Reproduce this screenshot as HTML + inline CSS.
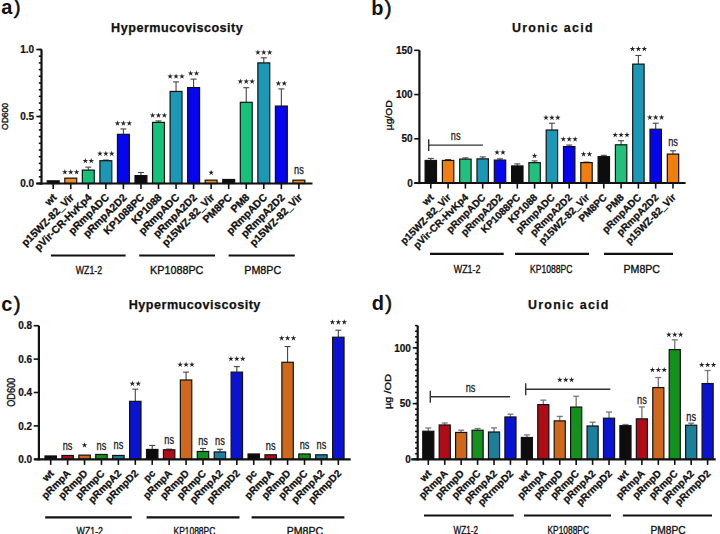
<!DOCTYPE html><html><head><meta charset="utf-8"><style>html,body{margin:0;padding:0;background:#fff;width:720px;height:534px;overflow:hidden}svg{display:block}</style></head><body><svg width="720" height="534" viewBox="0 0 720 534" font-family='"Liberation Sans", sans-serif'><rect width="720" height="534" fill="#fff"/><rect x="47.25" y="180.82" width="11.90" height="2.68" fill="#0d0d0d" stroke="#111" stroke-width="1.2"/><line x1="53.20" y1="183.50" x2="53.20" y2="189.10" stroke="#111" stroke-width="1.6"/><text x="57.20" y="198.00" font-size="10.5" font-weight="bold" text-anchor="end" fill="#111" stroke="#111" stroke-width="0.3" transform="rotate(-45 57.20 198.00)">wt</text><rect x="64.80" y="178.14" width="11.90" height="5.36" fill="#f08c1c" stroke="#111" stroke-width="1.2"/><path d="M64.85,169.10L65.50,171.21L67.70,171.17L65.90,172.44L66.61,174.53L64.85,173.20L63.09,174.53L63.80,172.44L62.00,171.17L64.20,171.21ZM70.75,169.10L71.40,171.21L73.60,171.17L71.80,172.44L72.51,174.53L70.75,173.20L68.99,174.53L69.70,172.44L67.90,171.17L70.10,171.21ZM76.65,169.10L77.30,171.21L79.50,171.17L77.70,172.44L78.41,174.53L76.65,173.20L74.89,174.53L75.60,172.44L73.80,171.17L76.00,171.21Z" fill="#222"/><line x1="70.75" y1="183.50" x2="70.75" y2="189.10" stroke="#111" stroke-width="1.6"/><text x="74.75" y="198.00" font-size="10.5" font-weight="bold" text-anchor="end" fill="#111" stroke="#111" stroke-width="0.3" transform="rotate(-45 74.75 198.00)">p15WZ-82_Vir</text><line x1="88.30" y1="170.10" x2="88.30" y2="167.15" stroke="#444" stroke-width="1.1"/><line x1="85.30" y1="167.15" x2="91.30" y2="167.15" stroke="#444" stroke-width="1.1"/><rect x="82.35" y="170.10" width="11.90" height="13.40" fill="#14c27a" stroke="#111" stroke-width="1.2"/><path d="M85.35,157.90L86.00,160.01L88.20,159.97L86.40,161.24L87.11,163.33L85.35,162.00L83.59,163.33L84.30,161.24L82.50,159.97L84.70,160.01ZM91.25,157.90L91.90,160.01L94.10,159.97L92.30,161.24L93.01,163.33L91.25,162.00L89.49,163.33L90.20,161.24L88.40,159.97L90.60,160.01Z" fill="#222"/><line x1="88.30" y1="183.50" x2="88.30" y2="189.10" stroke="#111" stroke-width="1.6"/><text x="92.30" y="198.00" font-size="10.5" font-weight="bold" text-anchor="end" fill="#111" stroke="#111" stroke-width="0.3" transform="rotate(-45 92.30 198.00)">pVir-CR-HvKp4</text><line x1="105.85" y1="160.72" x2="105.85" y2="160.05" stroke="#444" stroke-width="1.1"/><line x1="102.85" y1="160.05" x2="108.85" y2="160.05" stroke="#444" stroke-width="1.1"/><rect x="99.90" y="160.72" width="11.90" height="22.78" fill="#1b98b6" stroke="#111" stroke-width="1.2"/><path d="M99.95,150.70L100.60,152.81L102.80,152.77L101.00,154.04L101.71,156.13L99.95,154.80L98.19,156.13L98.90,154.04L97.10,152.77L99.30,152.81ZM105.85,150.70L106.50,152.81L108.70,152.77L106.90,154.04L107.61,156.13L105.85,154.80L104.09,156.13L104.80,154.04L103.00,152.77L105.20,152.81ZM111.75,150.70L112.40,152.81L114.60,152.77L112.80,154.04L113.51,156.13L111.75,154.80L109.99,156.13L110.70,154.04L108.90,152.77L111.10,152.81Z" fill="#222"/><line x1="105.85" y1="183.50" x2="105.85" y2="189.10" stroke="#111" stroke-width="1.6"/><text x="109.85" y="198.00" font-size="10.5" font-weight="bold" text-anchor="end" fill="#111" stroke="#111" stroke-width="0.3" transform="rotate(-45 109.85 198.00)">pRmpADC</text><line x1="123.40" y1="134.32" x2="123.40" y2="128.96" stroke="#444" stroke-width="1.1"/><line x1="120.40" y1="128.96" x2="126.40" y2="128.96" stroke="#444" stroke-width="1.1"/><rect x="117.45" y="134.32" width="11.90" height="49.18" fill="#0505f0" stroke="#111" stroke-width="1.2"/><path d="M117.50,120.30L118.15,122.41L120.35,122.37L118.55,123.64L119.26,125.73L117.50,124.40L115.74,125.73L116.45,123.64L114.65,122.37L116.85,122.41ZM123.40,120.30L124.05,122.41L126.25,122.37L124.45,123.64L125.16,125.73L123.40,124.40L121.64,125.73L122.35,123.64L120.55,122.37L122.75,122.41ZM129.30,120.30L129.95,122.41L132.15,122.37L130.35,123.64L131.06,125.73L129.30,124.40L127.54,125.73L128.25,123.64L126.45,122.37L128.65,122.41Z" fill="#222"/><line x1="123.40" y1="183.50" x2="123.40" y2="189.10" stroke="#111" stroke-width="1.6"/><text x="127.40" y="198.00" font-size="10.5" font-weight="bold" text-anchor="end" fill="#111" stroke="#111" stroke-width="0.3" transform="rotate(-45 127.40 198.00)">pRmpA2D2</text><line x1="140.95" y1="175.59" x2="140.95" y2="172.51" stroke="#444" stroke-width="1.1"/><line x1="137.95" y1="172.51" x2="143.95" y2="172.51" stroke="#444" stroke-width="1.1"/><rect x="135.00" y="175.59" width="11.90" height="7.91" fill="#0d0d0d" stroke="#111" stroke-width="1.2"/><line x1="140.95" y1="183.50" x2="140.95" y2="189.10" stroke="#111" stroke-width="1.6"/><text x="144.95" y="198.00" font-size="10.5" font-weight="bold" text-anchor="end" fill="#111" stroke="#111" stroke-width="0.3" transform="rotate(-45 144.95 198.00)">KP1088PC</text><line x1="158.50" y1="122.40" x2="158.50" y2="120.92" stroke="#444" stroke-width="1.1"/><line x1="155.50" y1="120.92" x2="161.50" y2="120.92" stroke="#444" stroke-width="1.1"/><rect x="152.55" y="122.40" width="11.90" height="61.10" fill="#14c27a" stroke="#111" stroke-width="1.2"/><path d="M152.60,112.40L153.25,114.51L155.45,114.47L153.65,115.74L154.36,117.83L152.60,116.50L150.84,117.83L151.55,115.74L149.75,114.47L151.95,114.51ZM158.50,112.40L159.15,114.51L161.35,114.47L159.55,115.74L160.26,117.83L158.50,116.50L156.74,117.83L157.45,115.74L155.65,114.47L157.85,114.51ZM164.40,112.40L165.05,114.51L167.25,114.47L165.45,115.74L166.16,117.83L164.40,116.50L162.64,117.83L163.35,115.74L161.55,114.47L163.75,114.51Z" fill="#222"/><line x1="158.50" y1="183.50" x2="158.50" y2="189.10" stroke="#111" stroke-width="1.6"/><text x="162.50" y="198.00" font-size="10.5" font-weight="bold" text-anchor="end" fill="#111" stroke="#111" stroke-width="0.3" transform="rotate(-45 162.50 198.00)">KP1088</text><line x1="176.05" y1="91.44" x2="176.05" y2="81.93" stroke="#444" stroke-width="1.1"/><line x1="173.05" y1="81.93" x2="179.05" y2="81.93" stroke="#444" stroke-width="1.1"/><rect x="170.10" y="91.44" width="11.90" height="92.06" fill="#1b98b6" stroke="#111" stroke-width="1.2"/><path d="M170.15,73.40L170.80,75.51L173.00,75.47L171.20,76.74L171.91,78.83L170.15,77.50L168.39,78.83L169.10,76.74L167.30,75.47L169.50,75.51ZM176.05,73.40L176.70,75.51L178.90,75.47L177.10,76.74L177.81,78.83L176.05,77.50L174.29,78.83L175.00,76.74L173.20,75.47L175.40,75.51ZM181.95,73.40L182.60,75.51L184.80,75.47L183.00,76.74L183.71,78.83L181.95,77.50L180.19,78.83L180.90,76.74L179.10,75.47L181.30,75.51Z" fill="#222"/><line x1="176.05" y1="183.50" x2="176.05" y2="189.10" stroke="#111" stroke-width="1.6"/><text x="180.05" y="198.00" font-size="10.5" font-weight="bold" text-anchor="end" fill="#111" stroke="#111" stroke-width="0.3" transform="rotate(-45 180.05 198.00)">pRmpADC</text><line x1="193.60" y1="87.56" x2="193.60" y2="79.11" stroke="#444" stroke-width="1.1"/><line x1="190.60" y1="79.11" x2="196.60" y2="79.11" stroke="#444" stroke-width="1.1"/><rect x="187.65" y="87.56" width="11.90" height="95.94" fill="#0505f0" stroke="#111" stroke-width="1.2"/><path d="M190.65,70.40L191.30,72.51L193.50,72.47L191.70,73.74L192.41,75.83L190.65,74.50L188.89,75.83L189.60,73.74L187.80,72.47L190.00,72.51ZM196.55,70.40L197.20,72.51L199.40,72.47L197.60,73.74L198.31,75.83L196.55,74.50L194.79,75.83L195.50,73.74L193.70,72.47L195.90,72.51Z" fill="#222"/><line x1="193.60" y1="183.50" x2="193.60" y2="189.10" stroke="#111" stroke-width="1.6"/><text x="197.60" y="198.00" font-size="10.5" font-weight="bold" text-anchor="end" fill="#111" stroke="#111" stroke-width="0.3" transform="rotate(-45 197.60 198.00)">pRmpA2D2</text><rect x="205.20" y="180.15" width="11.90" height="3.35" fill="#f08c1c" stroke="#111" stroke-width="1.2"/><path d="M211.15,169.75L211.80,171.86L214.00,171.82L212.20,173.09L212.91,175.18L211.15,173.85L209.39,175.18L210.10,173.09L208.30,171.82L210.50,171.86Z" fill="#222"/><line x1="211.15" y1="183.50" x2="211.15" y2="189.10" stroke="#111" stroke-width="1.6"/><text x="215.15" y="198.00" font-size="10.5" font-weight="bold" text-anchor="end" fill="#111" stroke="#111" stroke-width="0.3" transform="rotate(-45 215.15 198.00)">p15WZ-82_Vir</text><rect x="222.75" y="179.48" width="11.90" height="4.02" fill="#0d0d0d" stroke="#111" stroke-width="1.2"/><line x1="228.70" y1="183.50" x2="228.70" y2="189.10" stroke="#111" stroke-width="1.6"/><text x="232.70" y="198.00" font-size="10.5" font-weight="bold" text-anchor="end" fill="#111" stroke="#111" stroke-width="0.3" transform="rotate(-45 232.70 198.00)">PM8PC</text><line x1="246.25" y1="102.30" x2="246.25" y2="87.69" stroke="#444" stroke-width="1.1"/><line x1="243.25" y1="87.69" x2="249.25" y2="87.69" stroke="#444" stroke-width="1.1"/><rect x="240.30" y="102.30" width="11.90" height="81.20" fill="#14c27a" stroke="#111" stroke-width="1.2"/><path d="M240.35,78.50L241.00,80.61L243.20,80.57L241.40,81.84L242.11,83.93L240.35,82.60L238.59,83.93L239.30,81.84L237.50,80.57L239.70,80.61ZM246.25,78.50L246.90,80.61L249.10,80.57L247.30,81.84L248.01,83.93L246.25,82.60L244.49,83.93L245.20,81.84L243.40,80.57L245.60,80.61ZM252.15,78.50L252.80,80.61L255.00,80.57L253.20,81.84L253.91,83.93L252.15,82.60L250.39,83.93L251.10,81.84L249.30,80.57L251.50,80.61Z" fill="#222"/><line x1="246.25" y1="183.50" x2="246.25" y2="189.10" stroke="#111" stroke-width="1.6"/><text x="250.25" y="198.00" font-size="10.5" font-weight="bold" text-anchor="end" fill="#111" stroke="#111" stroke-width="0.3" transform="rotate(-45 250.25 198.00)">PM8</text><line x1="263.80" y1="62.90" x2="263.80" y2="57.81" stroke="#444" stroke-width="1.1"/><line x1="260.80" y1="57.81" x2="266.80" y2="57.81" stroke="#444" stroke-width="1.1"/><rect x="257.85" y="62.90" width="11.90" height="120.60" fill="#1b98b6" stroke="#111" stroke-width="1.2"/><path d="M257.90,49.50L258.55,51.61L260.75,51.57L258.95,52.84L259.66,54.93L257.90,53.60L256.14,54.93L256.85,52.84L255.05,51.57L257.25,51.61ZM263.80,49.50L264.45,51.61L266.65,51.57L264.85,52.84L265.56,54.93L263.80,53.60L262.04,54.93L262.75,52.84L260.95,51.57L263.15,51.61ZM269.70,49.50L270.35,51.61L272.55,51.57L270.75,52.84L271.46,54.93L269.70,53.60L267.94,54.93L268.65,52.84L266.85,51.57L269.05,51.61Z" fill="#222"/><line x1="263.80" y1="183.50" x2="263.80" y2="189.10" stroke="#111" stroke-width="1.6"/><text x="267.80" y="198.00" font-size="10.5" font-weight="bold" text-anchor="end" fill="#111" stroke="#111" stroke-width="0.3" transform="rotate(-45 267.80 198.00)">pRmpADC</text><line x1="281.35" y1="106.05" x2="281.35" y2="88.90" stroke="#444" stroke-width="1.1"/><line x1="278.35" y1="88.90" x2="284.35" y2="88.90" stroke="#444" stroke-width="1.1"/><rect x="275.40" y="106.05" width="11.90" height="77.45" fill="#0505f0" stroke="#111" stroke-width="1.2"/><path d="M278.40,80.50L279.05,82.61L281.25,82.57L279.45,83.84L280.16,85.93L278.40,84.60L276.64,85.93L277.35,83.84L275.55,82.57L277.75,82.61ZM284.30,80.50L284.95,82.61L287.15,82.57L285.35,83.84L286.06,85.93L284.30,84.60L282.54,85.93L283.25,83.84L281.45,82.57L283.65,82.61Z" fill="#222"/><line x1="281.35" y1="183.50" x2="281.35" y2="189.10" stroke="#111" stroke-width="1.6"/><text x="285.35" y="198.00" font-size="10.5" font-weight="bold" text-anchor="end" fill="#111" stroke="#111" stroke-width="0.3" transform="rotate(-45 285.35 198.00)">pRmpA2D2</text><rect x="292.95" y="180.15" width="11.90" height="3.35" fill="#f08c1c" stroke="#111" stroke-width="1.2"/><text x="298.90" y="174.00" font-size="12.5" font-weight="normal" text-anchor="middle" fill="#222" textLength="9.7" lengthAdjust="spacingAndGlyphs" stroke="#222" stroke-width="0.3">ns</text><line x1="298.90" y1="183.50" x2="298.90" y2="189.10" stroke="#111" stroke-width="1.6"/><text x="302.90" y="198.00" font-size="10.5" font-weight="bold" text-anchor="end" fill="#111" stroke="#111" stroke-width="0.3" transform="rotate(-45 302.90 198.00)">p15WZ-82_Vir</text><line x1="41.50" y1="49.50" x2="41.50" y2="184.60" stroke="#111" stroke-width="2.2"/><line x1="36.30" y1="183.50" x2="312.50" y2="183.50" stroke="#111" stroke-width="2.2"/><line x1="36.30" y1="183.50" x2="41.50" y2="183.50" stroke="#111" stroke-width="1.6"/><text x="34.10" y="187.10" font-size="10" font-weight="bold" text-anchor="end" fill="#111" stroke="#111" stroke-width="0.2">0.0</text><line x1="36.30" y1="116.50" x2="41.50" y2="116.50" stroke="#111" stroke-width="1.6"/><text x="34.10" y="120.10" font-size="10" font-weight="bold" text-anchor="end" fill="#111" stroke="#111" stroke-width="0.2">0.5</text><line x1="36.30" y1="49.50" x2="41.50" y2="49.50" stroke="#111" stroke-width="1.6"/><text x="34.10" y="53.10" font-size="10" font-weight="bold" text-anchor="end" fill="#111" stroke="#111" stroke-width="0.2">1.0</text><line x1="38.80" y1="183.50" x2="41.50" y2="183.50" stroke="#111" stroke-width="1.6"/><line x1="38.80" y1="176.80" x2="41.50" y2="176.80" stroke="#111" stroke-width="1.6"/><line x1="38.80" y1="170.10" x2="41.50" y2="170.10" stroke="#111" stroke-width="1.6"/><line x1="38.80" y1="163.40" x2="41.50" y2="163.40" stroke="#111" stroke-width="1.6"/><line x1="38.80" y1="156.70" x2="41.50" y2="156.70" stroke="#111" stroke-width="1.6"/><line x1="38.80" y1="150.00" x2="41.50" y2="150.00" stroke="#111" stroke-width="1.6"/><line x1="38.80" y1="143.30" x2="41.50" y2="143.30" stroke="#111" stroke-width="1.6"/><line x1="38.80" y1="136.60" x2="41.50" y2="136.60" stroke="#111" stroke-width="1.6"/><line x1="38.80" y1="129.90" x2="41.50" y2="129.90" stroke="#111" stroke-width="1.6"/><line x1="38.80" y1="123.20" x2="41.50" y2="123.20" stroke="#111" stroke-width="1.6"/><line x1="38.80" y1="116.50" x2="41.50" y2="116.50" stroke="#111" stroke-width="1.6"/><line x1="38.80" y1="109.80" x2="41.50" y2="109.80" stroke="#111" stroke-width="1.6"/><line x1="38.80" y1="103.10" x2="41.50" y2="103.10" stroke="#111" stroke-width="1.6"/><line x1="38.80" y1="96.40" x2="41.50" y2="96.40" stroke="#111" stroke-width="1.6"/><line x1="38.80" y1="89.70" x2="41.50" y2="89.70" stroke="#111" stroke-width="1.6"/><line x1="38.80" y1="83.00" x2="41.50" y2="83.00" stroke="#111" stroke-width="1.6"/><line x1="38.80" y1="76.30" x2="41.50" y2="76.30" stroke="#111" stroke-width="1.6"/><line x1="38.80" y1="69.60" x2="41.50" y2="69.60" stroke="#111" stroke-width="1.6"/><line x1="38.80" y1="62.90" x2="41.50" y2="62.90" stroke="#111" stroke-width="1.6"/><line x1="38.80" y1="56.20" x2="41.50" y2="56.20" stroke="#111" stroke-width="1.6"/><line x1="38.80" y1="49.50" x2="41.50" y2="49.50" stroke="#111" stroke-width="1.6"/><text x="8.00" y="116.50" font-size="9.5" text-anchor="middle" fill="#111" stroke="#111" stroke-width="0.35" transform="rotate(-90 8.00 116.50)" textLength="27" lengthAdjust="spacingAndGlyphs">OD600</text><text x="177.20" y="32.10" font-size="12.6" font-weight="bold" text-anchor="middle" fill="#111" letter-spacing="0.5" stroke="#111" stroke-width="0.25">Hypermucoviscosity</text><text x="1.2" y="14.4" font-size="20" fill="#111"><tspan font-weight="bold">a</tspan><tspan dx="1.3" font-size="20.5" stroke="#111" stroke-width="0.5">)</tspan></text><line x1="50.90" y1="255.50" x2="125.60" y2="255.50" stroke="#111" stroke-width="2.2"/><text x="89.00" y="274.00" font-size="11" text-anchor="middle" fill="#111" stroke="#111" stroke-width="0.35" textLength="26.4" lengthAdjust="spacingAndGlyphs">WZ1-2</text><line x1="139.20" y1="255.50" x2="215.00" y2="255.50" stroke="#111" stroke-width="2.2"/><text x="176.70" y="274.00" font-size="11" text-anchor="middle" fill="#111" stroke="#111" stroke-width="0.35" textLength="53.4" lengthAdjust="spacingAndGlyphs">KP1088PC</text><line x1="228.60" y1="255.50" x2="294.80" y2="255.50" stroke="#111" stroke-width="2.2"/><text x="262.70" y="274.00" font-size="11" text-anchor="middle" fill="#111" stroke="#111" stroke-width="0.35" textLength="36.9" lengthAdjust="spacingAndGlyphs">PM8PC</text><line x1="430.80" y1="160.45" x2="430.80" y2="158.41" stroke="#444" stroke-width="1.1"/><line x1="427.80" y1="158.41" x2="433.80" y2="158.41" stroke="#444" stroke-width="1.1"/><rect x="425.10" y="160.45" width="11.40" height="22.55" fill="#0d0d0d" stroke="#111" stroke-width="1.2"/><line x1="430.80" y1="183.00" x2="430.80" y2="188.60" stroke="#111" stroke-width="1.6"/><text x="434.30" y="198.00" font-size="10.1" font-weight="bold" text-anchor="end" fill="#111" stroke="#111" stroke-width="0.3" transform="rotate(-45 434.30 198.00)">wt</text><line x1="448.10" y1="160.45" x2="448.10" y2="159.56" stroke="#444" stroke-width="1.1"/><line x1="445.10" y1="159.56" x2="451.10" y2="159.56" stroke="#444" stroke-width="1.1"/><rect x="442.40" y="160.45" width="11.40" height="22.55" fill="#f07f10" stroke="#111" stroke-width="1.2"/><line x1="448.10" y1="183.00" x2="448.10" y2="188.60" stroke="#111" stroke-width="1.6"/><text x="451.60" y="198.00" font-size="10.1" font-weight="bold" text-anchor="end" fill="#111" stroke="#111" stroke-width="0.3" transform="rotate(-45 451.60 198.00)">p15WZ-82_Vir</text><line x1="465.40" y1="159.12" x2="465.40" y2="157.88" stroke="#444" stroke-width="1.1"/><line x1="462.40" y1="157.88" x2="468.40" y2="157.88" stroke="#444" stroke-width="1.1"/><rect x="459.70" y="159.12" width="11.40" height="23.88" fill="#22c07c" stroke="#111" stroke-width="1.2"/><line x1="465.40" y1="183.00" x2="465.40" y2="188.60" stroke="#111" stroke-width="1.6"/><text x="468.90" y="198.00" font-size="10.1" font-weight="bold" text-anchor="end" fill="#111" stroke="#111" stroke-width="0.3" transform="rotate(-45 468.90 198.00)">pVir-CR-HvKp4</text><line x1="482.70" y1="158.85" x2="482.70" y2="156.91" stroke="#444" stroke-width="1.1"/><line x1="479.70" y1="156.91" x2="485.70" y2="156.91" stroke="#444" stroke-width="1.1"/><rect x="477.00" y="158.85" width="11.40" height="24.15" fill="#1b98b6" stroke="#111" stroke-width="1.2"/><line x1="482.70" y1="183.00" x2="482.70" y2="188.60" stroke="#111" stroke-width="1.6"/><text x="486.20" y="198.00" font-size="10.1" font-weight="bold" text-anchor="end" fill="#111" stroke="#111" stroke-width="0.3" transform="rotate(-45 486.20 198.00)">pRmpADC</text><line x1="500.00" y1="160.09" x2="500.00" y2="158.85" stroke="#444" stroke-width="1.1"/><line x1="497.00" y1="158.85" x2="503.00" y2="158.85" stroke="#444" stroke-width="1.1"/><rect x="494.30" y="160.09" width="11.40" height="22.91" fill="#0505ee" stroke="#111" stroke-width="1.2"/><path d="M497.05,149.50L497.70,151.61L499.90,151.57L498.10,152.84L498.81,154.93L497.05,153.60L495.29,154.93L496.00,152.84L494.20,151.57L496.40,151.61ZM502.95,149.50L503.60,151.61L505.80,151.57L504.00,152.84L504.71,154.93L502.95,153.60L501.19,154.93L501.90,152.84L500.10,151.57L502.30,151.61Z" fill="#222"/><line x1="500.00" y1="183.00" x2="500.00" y2="188.60" stroke="#111" stroke-width="1.6"/><text x="503.50" y="198.00" font-size="10.1" font-weight="bold" text-anchor="end" fill="#111" stroke="#111" stroke-width="0.3" transform="rotate(-45 503.50 198.00)">pRmpA2D2</text><line x1="517.30" y1="165.93" x2="517.30" y2="163.89" stroke="#444" stroke-width="1.1"/><line x1="514.30" y1="163.89" x2="520.30" y2="163.89" stroke="#444" stroke-width="1.1"/><rect x="511.60" y="165.93" width="11.40" height="17.07" fill="#0d0d0d" stroke="#111" stroke-width="1.2"/><line x1="517.30" y1="183.00" x2="517.30" y2="188.60" stroke="#111" stroke-width="1.6"/><text x="520.80" y="198.00" font-size="10.1" font-weight="bold" text-anchor="end" fill="#111" stroke="#111" stroke-width="0.3" transform="rotate(-45 520.80 198.00)">KP1088PC</text><line x1="534.60" y1="162.66" x2="534.60" y2="160.89" stroke="#444" stroke-width="1.1"/><line x1="531.60" y1="160.89" x2="537.60" y2="160.89" stroke="#444" stroke-width="1.1"/><rect x="528.90" y="162.66" width="11.40" height="20.34" fill="#22c07c" stroke="#111" stroke-width="1.2"/><path d="M534.60,152.80L535.25,154.91L537.45,154.87L535.65,156.14L536.36,158.23L534.60,156.90L532.84,158.23L533.55,156.14L531.75,154.87L533.95,154.91Z" fill="#222"/><line x1="534.60" y1="183.00" x2="534.60" y2="188.60" stroke="#111" stroke-width="1.6"/><text x="538.10" y="198.00" font-size="10.1" font-weight="bold" text-anchor="end" fill="#111" stroke="#111" stroke-width="0.3" transform="rotate(-45 538.10 198.00)">KP1088</text><line x1="551.90" y1="130.02" x2="551.90" y2="123.21" stroke="#444" stroke-width="1.1"/><line x1="548.90" y1="123.21" x2="554.90" y2="123.21" stroke="#444" stroke-width="1.1"/><rect x="546.20" y="130.02" width="11.40" height="52.98" fill="#1b98b6" stroke="#111" stroke-width="1.2"/><path d="M546.00,114.75L546.65,116.86L548.85,116.82L547.05,118.09L547.76,120.18L546.00,118.85L544.24,120.18L544.95,118.09L543.15,116.82L545.35,116.86ZM551.90,114.75L552.55,116.86L554.75,116.82L552.95,118.09L553.66,120.18L551.90,118.85L550.14,120.18L550.85,118.09L549.05,116.82L551.25,116.86ZM557.80,114.75L558.45,116.86L560.65,116.82L558.85,118.09L559.56,120.18L557.80,118.85L556.04,120.18L556.75,118.09L554.95,116.82L557.15,116.86Z" fill="#222"/><line x1="551.90" y1="183.00" x2="551.90" y2="188.60" stroke="#111" stroke-width="1.6"/><text x="555.40" y="198.00" font-size="10.1" font-weight="bold" text-anchor="end" fill="#111" stroke="#111" stroke-width="0.3" transform="rotate(-45 555.40 198.00)">pRmpADC</text><line x1="569.20" y1="146.56" x2="569.20" y2="145.05" stroke="#444" stroke-width="1.1"/><line x1="566.20" y1="145.05" x2="572.20" y2="145.05" stroke="#444" stroke-width="1.1"/><rect x="563.50" y="146.56" width="11.40" height="36.44" fill="#0505ee" stroke="#111" stroke-width="1.2"/><path d="M563.30,136.20L563.95,138.31L566.15,138.27L564.35,139.54L565.06,141.63L563.30,140.30L561.54,141.63L562.25,139.54L560.45,138.27L562.65,138.31ZM569.20,136.20L569.85,138.31L572.05,138.27L570.25,139.54L570.96,141.63L569.20,140.30L567.44,141.63L568.15,139.54L566.35,138.27L568.55,138.31ZM575.10,136.20L575.75,138.31L577.95,138.27L576.15,139.54L576.86,141.63L575.10,140.30L573.34,141.63L574.05,139.54L572.25,138.27L574.45,138.31Z" fill="#222"/><line x1="569.20" y1="183.00" x2="569.20" y2="188.60" stroke="#111" stroke-width="1.6"/><text x="572.70" y="198.00" font-size="10.1" font-weight="bold" text-anchor="end" fill="#111" stroke="#111" stroke-width="0.3" transform="rotate(-45 572.70 198.00)">pRmpA2D2</text><line x1="586.50" y1="162.57" x2="586.50" y2="162.13" stroke="#444" stroke-width="1.1"/><line x1="583.50" y1="162.13" x2="589.50" y2="162.13" stroke="#444" stroke-width="1.1"/><rect x="580.80" y="162.57" width="11.40" height="20.43" fill="#f07f10" stroke="#111" stroke-width="1.2"/><path d="M583.55,151.20L584.20,153.31L586.40,153.27L584.60,154.54L585.31,156.63L583.55,155.30L581.79,156.63L582.50,154.54L580.70,153.27L582.90,153.31ZM589.45,151.20L590.10,153.31L592.30,153.27L590.50,154.54L591.21,156.63L589.45,155.30L587.69,156.63L588.40,154.54L586.60,153.27L588.80,153.31Z" fill="#222"/><line x1="586.50" y1="183.00" x2="586.50" y2="188.60" stroke="#111" stroke-width="1.6"/><text x="590.00" y="198.00" font-size="10.1" font-weight="bold" text-anchor="end" fill="#111" stroke="#111" stroke-width="0.3" transform="rotate(-45 590.00 198.00)">p15WZ-82_Vir</text><line x1="603.80" y1="156.64" x2="603.80" y2="155.32" stroke="#444" stroke-width="1.1"/><line x1="600.80" y1="155.32" x2="606.80" y2="155.32" stroke="#444" stroke-width="1.1"/><rect x="598.10" y="156.64" width="11.40" height="26.36" fill="#0d0d0d" stroke="#111" stroke-width="1.2"/><line x1="603.80" y1="183.00" x2="603.80" y2="188.60" stroke="#111" stroke-width="1.6"/><text x="607.30" y="198.00" font-size="10.1" font-weight="bold" text-anchor="end" fill="#111" stroke="#111" stroke-width="0.3" transform="rotate(-45 607.30 198.00)">PM8PC</text><line x1="621.10" y1="144.79" x2="621.10" y2="140.72" stroke="#444" stroke-width="1.1"/><line x1="618.10" y1="140.72" x2="624.10" y2="140.72" stroke="#444" stroke-width="1.1"/><rect x="615.40" y="144.79" width="11.40" height="38.21" fill="#22c07c" stroke="#111" stroke-width="1.2"/><path d="M615.20,132.00L615.85,134.11L618.05,134.07L616.25,135.34L616.96,137.43L615.20,136.10L613.44,137.43L614.15,135.34L612.35,134.07L614.55,134.11ZM621.10,132.00L621.75,134.11L623.95,134.07L622.15,135.34L622.86,137.43L621.10,136.10L619.34,137.43L620.05,135.34L618.25,134.07L620.45,134.11ZM627.00,132.00L627.65,134.11L629.85,134.07L628.05,135.34L628.76,137.43L627.00,136.10L625.24,137.43L625.95,135.34L624.15,134.07L626.35,134.11Z" fill="#222"/><line x1="621.10" y1="183.00" x2="621.10" y2="188.60" stroke="#111" stroke-width="1.6"/><text x="624.60" y="198.00" font-size="10.1" font-weight="bold" text-anchor="end" fill="#111" stroke="#111" stroke-width="0.3" transform="rotate(-45 624.60 198.00)">PM8</text><line x1="638.40" y1="64.12" x2="638.40" y2="55.46" stroke="#444" stroke-width="1.1"/><line x1="635.40" y1="55.46" x2="641.40" y2="55.46" stroke="#444" stroke-width="1.1"/><rect x="632.70" y="64.12" width="11.40" height="118.88" fill="#1b98b6" stroke="#111" stroke-width="1.2"/><path d="M632.50,46.00L633.15,48.11L635.35,48.07L633.55,49.34L634.26,51.43L632.50,50.10L630.74,51.43L631.45,49.34L629.65,48.07L631.85,48.11ZM638.40,46.00L639.05,48.11L641.25,48.07L639.45,49.34L640.16,51.43L638.40,50.10L636.64,51.43L637.35,49.34L635.55,48.07L637.75,48.11ZM644.30,46.00L644.95,48.11L647.15,48.07L645.35,49.34L646.06,51.43L644.30,50.10L642.54,51.43L643.25,49.34L641.45,48.07L643.65,48.11Z" fill="#222"/><line x1="638.40" y1="183.00" x2="638.40" y2="188.60" stroke="#111" stroke-width="1.6"/><text x="641.90" y="198.00" font-size="10.1" font-weight="bold" text-anchor="end" fill="#111" stroke="#111" stroke-width="0.3" transform="rotate(-45 641.90 198.00)">pRmpADC</text><line x1="655.70" y1="129.22" x2="655.70" y2="123.21" stroke="#444" stroke-width="1.1"/><line x1="652.70" y1="123.21" x2="658.70" y2="123.21" stroke="#444" stroke-width="1.1"/><rect x="650.00" y="129.22" width="11.40" height="53.78" fill="#0505ee" stroke="#111" stroke-width="1.2"/><path d="M649.80,114.50L650.45,116.61L652.65,116.57L650.85,117.84L651.56,119.93L649.80,118.60L648.04,119.93L648.75,117.84L646.95,116.57L649.15,116.61ZM655.70,114.50L656.35,116.61L658.55,116.57L656.75,117.84L657.46,119.93L655.70,118.60L653.94,119.93L654.65,117.84L652.85,116.57L655.05,116.61ZM661.60,114.50L662.25,116.61L664.45,116.57L662.65,117.84L663.36,119.93L661.60,118.60L659.84,119.93L660.55,117.84L658.75,116.57L660.95,116.61Z" fill="#222"/><line x1="655.70" y1="183.00" x2="655.70" y2="188.60" stroke="#111" stroke-width="1.6"/><text x="659.20" y="198.00" font-size="10.1" font-weight="bold" text-anchor="end" fill="#111" stroke="#111" stroke-width="0.3" transform="rotate(-45 659.20 198.00)">pRmpA2D2</text><line x1="673.00" y1="154.08" x2="673.00" y2="150.80" stroke="#444" stroke-width="1.1"/><line x1="670.00" y1="150.80" x2="676.00" y2="150.80" stroke="#444" stroke-width="1.1"/><rect x="667.30" y="154.08" width="11.40" height="28.92" fill="#f07f10" stroke="#111" stroke-width="1.2"/><text x="673.00" y="146.40" font-size="12.5" font-weight="normal" text-anchor="middle" fill="#222" textLength="9.7" lengthAdjust="spacingAndGlyphs" stroke="#222" stroke-width="0.3">ns</text><line x1="673.00" y1="183.00" x2="673.00" y2="188.60" stroke="#111" stroke-width="1.6"/><text x="676.50" y="198.00" font-size="10.1" font-weight="bold" text-anchor="end" fill="#111" stroke="#111" stroke-width="0.3" transform="rotate(-45 676.50 198.00)">p15WZ-82_Vir</text><line x1="419.40" y1="50.30" x2="419.40" y2="184.10" stroke="#111" stroke-width="2.2"/><line x1="414.30" y1="183.00" x2="685.60" y2="183.00" stroke="#111" stroke-width="2.2"/><line x1="414.20" y1="183.00" x2="419.40" y2="183.00" stroke="#111" stroke-width="1.6"/><text x="412.70" y="186.60" font-size="10" font-weight="bold" text-anchor="end" fill="#111" stroke="#111" stroke-width="0.2">0</text><line x1="414.20" y1="138.78" x2="419.40" y2="138.78" stroke="#111" stroke-width="1.6"/><text x="412.70" y="142.38" font-size="10" font-weight="bold" text-anchor="end" fill="#111" stroke="#111" stroke-width="0.2">50</text><line x1="414.20" y1="94.55" x2="419.40" y2="94.55" stroke="#111" stroke-width="1.6"/><text x="412.70" y="98.15" font-size="10" font-weight="bold" text-anchor="end" fill="#111" stroke="#111" stroke-width="0.2">100</text><line x1="414.20" y1="50.33" x2="419.40" y2="50.33" stroke="#111" stroke-width="1.6"/><text x="412.70" y="53.93" font-size="10" font-weight="bold" text-anchor="end" fill="#111" stroke="#111" stroke-width="0.2">150</text><text x="391.80" y="115.30" font-size="8.5" text-anchor="middle" fill="#111" stroke="#111" stroke-width="0.35" transform="rotate(-90 391.80 115.30)" textLength="30" lengthAdjust="spacingAndGlyphs">µg/OD</text><text x="552.90" y="31.70" font-size="12.4" font-weight="bold" text-anchor="middle" fill="#111" letter-spacing="1.3" stroke="#111" stroke-width="0.25">Uronic acid</text><text x="371.3" y="14.6" font-size="20" fill="#111"><tspan font-weight="bold">b</tspan><tspan dx="1.3" font-size="20.5" stroke="#111" stroke-width="0.5">)</tspan></text><line x1="430.00" y1="253.80" x2="503.75" y2="253.80" stroke="#111" stroke-width="2.2"/><text x="467.10" y="272.50" font-size="11" text-anchor="middle" fill="#111" stroke="#111" stroke-width="0.35" textLength="26.75" lengthAdjust="spacingAndGlyphs">WZ1-2</text><line x1="515.00" y1="253.80" x2="589.00" y2="253.80" stroke="#111" stroke-width="2.2"/><text x="551.25" y="272.50" font-size="11" text-anchor="middle" fill="#111" stroke="#111" stroke-width="0.35" textLength="42.5" lengthAdjust="spacingAndGlyphs">KP1088PC</text><line x1="604.00" y1="253.80" x2="673.00" y2="253.80" stroke="#111" stroke-width="2.2"/><text x="641.75" y="272.50" font-size="11" text-anchor="middle" fill="#111" stroke="#111" stroke-width="0.35" textLength="36.5" lengthAdjust="spacingAndGlyphs">PM8PC</text><line x1="428.70" y1="145.10" x2="483.00" y2="145.10" stroke="#333" stroke-width="1.4"/><line x1="428.70" y1="139.30" x2="428.70" y2="150.90" stroke="#333" stroke-width="1.4"/><text x="455.70" y="140.10" font-size="12.5" font-weight="normal" text-anchor="middle" fill="#222" textLength="9.7" lengthAdjust="spacingAndGlyphs" stroke="#222" stroke-width="0.3">ns</text><rect x="45.00" y="455.96" width="11.40" height="3.34" fill="#0d0d0d" stroke="#111" stroke-width="1.2"/><line x1="50.70" y1="459.30" x2="50.70" y2="464.90" stroke="#111" stroke-width="1.6"/><text x="54.40" y="474.10" font-size="10.2" font-weight="bold" text-anchor="end" fill="#111" stroke="#111" stroke-width="0.3" transform="rotate(-45 54.40 474.10)">wt</text><rect x="61.92" y="455.46" width="11.40" height="3.84" fill="#b00c18" stroke="#111" stroke-width="1.2"/><text x="67.62" y="449.50" font-size="12.5" font-weight="normal" text-anchor="middle" fill="#222" textLength="9.7" lengthAdjust="spacingAndGlyphs" stroke="#222" stroke-width="0.3">ns</text><line x1="67.62" y1="459.30" x2="67.62" y2="464.90" stroke="#111" stroke-width="1.6"/><text x="71.32" y="474.10" font-size="10.2" font-weight="bold" text-anchor="end" fill="#111" stroke="#111" stroke-width="0.3" transform="rotate(-45 71.32 474.10)">pRmpA</text><rect x="78.84" y="455.12" width="11.40" height="4.18" fill="#d0681c" stroke="#111" stroke-width="1.2"/><path d="M84.54,442.20L85.19,444.31L87.39,444.27L85.59,445.54L86.30,447.63L84.54,446.30L82.78,447.63L83.49,445.54L81.69,444.27L83.89,444.31Z" fill="#222"/><line x1="84.54" y1="459.30" x2="84.54" y2="464.90" stroke="#111" stroke-width="1.6"/><text x="88.24" y="474.10" font-size="10.2" font-weight="bold" text-anchor="end" fill="#111" stroke="#111" stroke-width="0.3" transform="rotate(-45 88.24 474.10)">pRmpD</text><rect x="95.76" y="454.46" width="11.40" height="4.84" fill="#14901c" stroke="#111" stroke-width="1.2"/><text x="101.46" y="449.50" font-size="12.5" font-weight="normal" text-anchor="middle" fill="#222" textLength="9.7" lengthAdjust="spacingAndGlyphs" stroke="#222" stroke-width="0.3">ns</text><line x1="101.46" y1="459.30" x2="101.46" y2="464.90" stroke="#111" stroke-width="1.6"/><text x="105.16" y="474.10" font-size="10.2" font-weight="bold" text-anchor="end" fill="#111" stroke="#111" stroke-width="0.3" transform="rotate(-45 105.16 474.10)">pRmpC</text><rect x="112.68" y="455.46" width="11.40" height="3.84" fill="#1c809c" stroke="#111" stroke-width="1.2"/><text x="118.38" y="448.80" font-size="12.5" font-weight="normal" text-anchor="middle" fill="#222" textLength="9.7" lengthAdjust="spacingAndGlyphs" stroke="#222" stroke-width="0.3">ns</text><line x1="118.38" y1="459.30" x2="118.38" y2="464.90" stroke="#111" stroke-width="1.6"/><text x="122.08" y="474.10" font-size="10.2" font-weight="bold" text-anchor="end" fill="#111" stroke="#111" stroke-width="0.3" transform="rotate(-45 122.08 474.10)">pRmpA2</text><line x1="135.30" y1="401.35" x2="135.30" y2="389.16" stroke="#444" stroke-width="1.1"/><line x1="132.30" y1="389.16" x2="138.30" y2="389.16" stroke="#444" stroke-width="1.1"/><rect x="129.60" y="401.35" width="11.40" height="57.95" fill="#0a14d0" stroke="#111" stroke-width="1.2"/><path d="M132.35,380.70L133.00,382.81L135.20,382.77L133.40,384.04L134.11,386.13L132.35,384.80L130.59,386.13L131.30,384.04L129.50,382.77L131.70,382.81ZM138.25,380.70L138.90,382.81L141.10,382.77L139.30,384.04L140.01,386.13L138.25,384.80L136.49,386.13L137.20,384.04L135.40,382.77L137.60,382.81Z" fill="#222"/><line x1="135.30" y1="459.30" x2="135.30" y2="464.90" stroke="#111" stroke-width="1.6"/><text x="139.00" y="474.10" font-size="10.2" font-weight="bold" text-anchor="end" fill="#111" stroke="#111" stroke-width="0.3" transform="rotate(-45 139.00 474.10)">pRmpD2</text><line x1="152.22" y1="449.45" x2="152.22" y2="445.44" stroke="#444" stroke-width="1.1"/><line x1="149.22" y1="445.44" x2="155.22" y2="445.44" stroke="#444" stroke-width="1.1"/><rect x="146.52" y="449.45" width="11.40" height="9.85" fill="#0d0d0d" stroke="#111" stroke-width="1.2"/><line x1="152.22" y1="459.30" x2="152.22" y2="464.90" stroke="#111" stroke-width="1.6"/><text x="155.92" y="474.10" font-size="10.2" font-weight="bold" text-anchor="end" fill="#111" stroke="#111" stroke-width="0.3" transform="rotate(-45 155.92 474.10)">pc</text><line x1="169.14" y1="449.78" x2="169.14" y2="449.11" stroke="#444" stroke-width="1.1"/><line x1="166.14" y1="449.11" x2="172.14" y2="449.11" stroke="#444" stroke-width="1.1"/><rect x="163.44" y="449.78" width="11.40" height="9.52" fill="#b00c18" stroke="#111" stroke-width="1.2"/><text x="169.14" y="444.20" font-size="12.5" font-weight="normal" text-anchor="middle" fill="#222" textLength="9.7" lengthAdjust="spacingAndGlyphs" stroke="#222" stroke-width="0.3">ns</text><line x1="169.14" y1="459.30" x2="169.14" y2="464.90" stroke="#111" stroke-width="1.6"/><text x="172.84" y="474.10" font-size="10.2" font-weight="bold" text-anchor="end" fill="#111" stroke="#111" stroke-width="0.3" transform="rotate(-45 172.84 474.10)">pRmpA</text><line x1="186.06" y1="379.98" x2="186.06" y2="372.13" stroke="#444" stroke-width="1.1"/><line x1="183.06" y1="372.13" x2="189.06" y2="372.13" stroke="#444" stroke-width="1.1"/><rect x="180.36" y="379.98" width="11.40" height="79.32" fill="#d0681c" stroke="#111" stroke-width="1.2"/><path d="M180.16,361.60L180.81,363.71L183.01,363.67L181.21,364.94L181.92,367.03L180.16,365.70L178.40,367.03L179.11,364.94L177.31,363.67L179.51,363.71ZM186.06,361.60L186.71,363.71L188.91,363.67L187.11,364.94L187.82,367.03L186.06,365.70L184.30,367.03L185.01,364.94L183.21,363.67L185.41,363.71ZM191.96,361.60L192.61,363.71L194.81,363.67L193.01,364.94L193.72,367.03L191.96,365.70L190.20,367.03L190.91,364.94L189.11,363.67L191.31,363.71Z" fill="#222"/><line x1="186.06" y1="459.30" x2="186.06" y2="464.90" stroke="#111" stroke-width="1.6"/><text x="189.76" y="474.10" font-size="10.2" font-weight="bold" text-anchor="end" fill="#111" stroke="#111" stroke-width="0.3" transform="rotate(-45 189.76 474.10)">pRmpD</text><line x1="202.98" y1="451.45" x2="202.98" y2="448.44" stroke="#444" stroke-width="1.1"/><line x1="199.98" y1="448.44" x2="205.98" y2="448.44" stroke="#444" stroke-width="1.1"/><rect x="197.28" y="451.45" width="11.40" height="7.85" fill="#14901c" stroke="#111" stroke-width="1.2"/><text x="202.98" y="445.00" font-size="12.5" font-weight="normal" text-anchor="middle" fill="#222" textLength="9.7" lengthAdjust="spacingAndGlyphs" stroke="#222" stroke-width="0.3">ns</text><line x1="202.98" y1="459.30" x2="202.98" y2="464.90" stroke="#111" stroke-width="1.6"/><text x="206.68" y="474.10" font-size="10.2" font-weight="bold" text-anchor="end" fill="#111" stroke="#111" stroke-width="0.3" transform="rotate(-45 206.68 474.10)">pRmpC</text><line x1="219.90" y1="451.95" x2="219.90" y2="449.28" stroke="#444" stroke-width="1.1"/><line x1="216.90" y1="449.28" x2="222.90" y2="449.28" stroke="#444" stroke-width="1.1"/><rect x="214.20" y="451.95" width="11.40" height="7.35" fill="#1c809c" stroke="#111" stroke-width="1.2"/><text x="219.90" y="445.00" font-size="12.5" font-weight="normal" text-anchor="middle" fill="#222" textLength="9.7" lengthAdjust="spacingAndGlyphs" stroke="#222" stroke-width="0.3">ns</text><line x1="219.90" y1="459.30" x2="219.90" y2="464.90" stroke="#111" stroke-width="1.6"/><text x="223.60" y="474.10" font-size="10.2" font-weight="bold" text-anchor="end" fill="#111" stroke="#111" stroke-width="0.3" transform="rotate(-45 223.60 474.10)">pRmpA2</text><line x1="236.82" y1="372.13" x2="236.82" y2="366.62" stroke="#444" stroke-width="1.1"/><line x1="233.82" y1="366.62" x2="239.82" y2="366.62" stroke="#444" stroke-width="1.1"/><rect x="231.12" y="372.13" width="11.40" height="87.17" fill="#0a14d0" stroke="#111" stroke-width="1.2"/><path d="M230.92,355.80L231.57,357.91L233.77,357.87L231.97,359.14L232.68,361.23L230.92,359.90L229.16,361.23L229.87,359.14L228.07,357.87L230.27,357.91ZM236.82,355.80L237.47,357.91L239.67,357.87L237.87,359.14L238.58,361.23L236.82,359.90L235.06,361.23L235.77,359.14L233.97,357.87L236.17,357.91ZM242.72,355.80L243.37,357.91L245.57,357.87L243.77,359.14L244.48,361.23L242.72,359.90L240.96,361.23L241.67,359.14L239.87,357.87L242.07,357.91Z" fill="#222"/><line x1="236.82" y1="459.30" x2="236.82" y2="464.90" stroke="#111" stroke-width="1.6"/><text x="240.52" y="474.10" font-size="10.2" font-weight="bold" text-anchor="end" fill="#111" stroke="#111" stroke-width="0.3" transform="rotate(-45 240.52 474.10)">pRmpD2</text><rect x="248.04" y="453.96" width="11.40" height="5.34" fill="#0d0d0d" stroke="#111" stroke-width="1.2"/><line x1="253.74" y1="459.30" x2="253.74" y2="464.90" stroke="#111" stroke-width="1.6"/><text x="257.44" y="474.10" font-size="10.2" font-weight="bold" text-anchor="end" fill="#111" stroke="#111" stroke-width="0.3" transform="rotate(-45 257.44 474.10)">pc</text><rect x="264.96" y="454.79" width="11.40" height="4.51" fill="#b00c18" stroke="#111" stroke-width="1.2"/><text x="270.66" y="449.70" font-size="12.5" font-weight="normal" text-anchor="middle" fill="#222" textLength="9.7" lengthAdjust="spacingAndGlyphs" stroke="#222" stroke-width="0.3">ns</text><line x1="270.66" y1="459.30" x2="270.66" y2="464.90" stroke="#111" stroke-width="1.6"/><text x="274.36" y="474.10" font-size="10.2" font-weight="bold" text-anchor="end" fill="#111" stroke="#111" stroke-width="0.3" transform="rotate(-45 274.36 474.10)">pRmpA</text><line x1="287.58" y1="362.27" x2="287.58" y2="346.57" stroke="#444" stroke-width="1.1"/><line x1="284.58" y1="346.57" x2="290.58" y2="346.57" stroke="#444" stroke-width="1.1"/><rect x="281.88" y="362.27" width="11.40" height="97.03" fill="#d0681c" stroke="#111" stroke-width="1.2"/><path d="M281.68,335.20L282.33,337.31L284.53,337.27L282.73,338.54L283.44,340.63L281.68,339.30L279.92,340.63L280.63,338.54L278.83,337.27L281.03,337.31ZM287.58,335.20L288.23,337.31L290.43,337.27L288.63,338.54L289.34,340.63L287.58,339.30L285.82,340.63L286.53,338.54L284.73,337.27L286.93,337.31ZM293.48,335.20L294.13,337.31L296.33,337.27L294.53,338.54L295.24,340.63L293.48,339.30L291.72,340.63L292.43,338.54L290.63,337.27L292.83,337.31Z" fill="#222"/><line x1="287.58" y1="459.30" x2="287.58" y2="464.90" stroke="#111" stroke-width="1.6"/><text x="291.28" y="474.10" font-size="10.2" font-weight="bold" text-anchor="end" fill="#111" stroke="#111" stroke-width="0.3" transform="rotate(-45 291.28 474.10)">pRmpD</text><rect x="298.80" y="453.96" width="11.40" height="5.34" fill="#14901c" stroke="#111" stroke-width="1.2"/><text x="304.50" y="449.00" font-size="12.5" font-weight="normal" text-anchor="middle" fill="#222" textLength="9.7" lengthAdjust="spacingAndGlyphs" stroke="#222" stroke-width="0.3">ns</text><line x1="304.50" y1="459.30" x2="304.50" y2="464.90" stroke="#111" stroke-width="1.6"/><text x="308.20" y="474.10" font-size="10.2" font-weight="bold" text-anchor="end" fill="#111" stroke="#111" stroke-width="0.3" transform="rotate(-45 308.20 474.10)">pRmpC</text><rect x="315.72" y="454.79" width="11.40" height="4.51" fill="#1c809c" stroke="#111" stroke-width="1.2"/><text x="321.42" y="449.00" font-size="12.5" font-weight="normal" text-anchor="middle" fill="#222" textLength="9.7" lengthAdjust="spacingAndGlyphs" stroke="#222" stroke-width="0.3">ns</text><line x1="321.42" y1="459.30" x2="321.42" y2="464.90" stroke="#111" stroke-width="1.6"/><text x="325.12" y="474.10" font-size="10.2" font-weight="bold" text-anchor="end" fill="#111" stroke="#111" stroke-width="0.3" transform="rotate(-45 325.12 474.10)">pRmpA2</text><line x1="338.34" y1="337.22" x2="338.34" y2="330.21" stroke="#444" stroke-width="1.1"/><line x1="335.34" y1="330.21" x2="341.34" y2="330.21" stroke="#444" stroke-width="1.1"/><rect x="332.64" y="337.22" width="11.40" height="122.08" fill="#0a14d0" stroke="#111" stroke-width="1.2"/><path d="M332.44,319.20L333.09,321.31L335.29,321.27L333.49,322.54L334.20,324.63L332.44,323.30L330.68,324.63L331.39,322.54L329.59,321.27L331.79,321.31ZM338.34,319.20L338.99,321.31L341.19,321.27L339.39,322.54L340.10,324.63L338.34,323.30L336.58,324.63L337.29,322.54L335.49,321.27L337.69,321.31ZM344.24,319.20L344.89,321.31L347.09,321.27L345.29,322.54L346.00,324.63L344.24,323.30L342.48,324.63L343.19,322.54L341.39,321.27L343.59,321.31Z" fill="#222"/><line x1="338.34" y1="459.30" x2="338.34" y2="464.90" stroke="#111" stroke-width="1.6"/><text x="342.04" y="474.10" font-size="10.2" font-weight="bold" text-anchor="end" fill="#111" stroke="#111" stroke-width="0.3" transform="rotate(-45 342.04 474.10)">pRmpD2</text><line x1="38.90" y1="325.70" x2="38.90" y2="460.40" stroke="#111" stroke-width="2.2"/><line x1="34.30" y1="459.30" x2="350.70" y2="459.30" stroke="#111" stroke-width="2.2"/><line x1="33.70" y1="459.30" x2="38.90" y2="459.30" stroke="#111" stroke-width="1.6"/><text x="32.20" y="462.90" font-size="10" font-weight="bold" text-anchor="end" fill="#111" stroke="#111" stroke-width="0.2">0.0</text><line x1="33.70" y1="425.90" x2="38.90" y2="425.90" stroke="#111" stroke-width="1.6"/><text x="32.20" y="429.50" font-size="10" font-weight="bold" text-anchor="end" fill="#111" stroke="#111" stroke-width="0.2">0.2</text><line x1="33.70" y1="392.50" x2="38.90" y2="392.50" stroke="#111" stroke-width="1.6"/><text x="32.20" y="396.10" font-size="10" font-weight="bold" text-anchor="end" fill="#111" stroke="#111" stroke-width="0.2">0.4</text><line x1="33.70" y1="359.10" x2="38.90" y2="359.10" stroke="#111" stroke-width="1.6"/><text x="32.20" y="362.70" font-size="10" font-weight="bold" text-anchor="end" fill="#111" stroke="#111" stroke-width="0.2">0.6</text><line x1="33.70" y1="325.70" x2="38.90" y2="325.70" stroke="#111" stroke-width="1.6"/><text x="32.20" y="329.30" font-size="10" font-weight="bold" text-anchor="end" fill="#111" stroke="#111" stroke-width="0.2">0.8</text><text x="15.20" y="392.30" font-size="10.8" text-anchor="middle" fill="#111" stroke="#111" stroke-width="0.35" transform="rotate(-90 15.20 392.30)" textLength="29" lengthAdjust="spacingAndGlyphs">OD600</text><text x="194.80" y="308.80" font-size="12.6" font-weight="bold" text-anchor="middle" fill="#111" letter-spacing="0.5" stroke="#111" stroke-width="0.25">Hypermucoviscosity</text><text x="1.3" y="311.4" font-size="20" fill="#111"><tspan font-weight="bold">c</tspan><tspan dx="1.3" font-size="20.5" stroke="#111" stroke-width="0.5">)</tspan></text><line x1="45.20" y1="517.40" x2="131.80" y2="517.40" stroke="#111" stroke-width="2.2"/><text x="89.80" y="534.50" font-size="11" text-anchor="middle" fill="#111" stroke="#111" stroke-width="0.35" textLength="26.4" lengthAdjust="spacingAndGlyphs">WZ1-2</text><line x1="146.60" y1="517.40" x2="239.50" y2="517.40" stroke="#111" stroke-width="2.2"/><text x="194.40" y="534.50" font-size="11" text-anchor="middle" fill="#111" stroke="#111" stroke-width="0.35" textLength="41.8" lengthAdjust="spacingAndGlyphs">KP1088PC</text><line x1="251.60" y1="517.40" x2="344.40" y2="517.40" stroke="#111" stroke-width="2.2"/><text x="304.90" y="534.50" font-size="11" text-anchor="middle" fill="#111" stroke="#111" stroke-width="0.35" textLength="36.4" lengthAdjust="spacingAndGlyphs">PM8PC</text><line x1="428.30" y1="431.23" x2="428.30" y2="428.00" stroke="#777" stroke-width="1.3"/><line x1="425.30" y1="428.00" x2="431.30" y2="428.00" stroke="#777" stroke-width="1.3"/><rect x="422.75" y="431.23" width="11.10" height="28.07" fill="#0d0d0d" stroke="#111" stroke-width="1.2"/><line x1="428.30" y1="459.30" x2="428.30" y2="464.90" stroke="#111" stroke-width="1.6"/><text x="431.90" y="474.20" font-size="10.1" font-weight="bold" text-anchor="end" fill="#111" stroke="#111" stroke-width="0.3" transform="rotate(-45 431.90 474.20)">wt</text><line x1="444.73" y1="424.99" x2="444.73" y2="422.98" stroke="#777" stroke-width="1.3"/><line x1="441.73" y1="422.98" x2="447.73" y2="422.98" stroke="#777" stroke-width="1.3"/><rect x="439.18" y="424.99" width="11.10" height="34.31" fill="#b00c18" stroke="#111" stroke-width="1.2"/><line x1="444.73" y1="459.30" x2="444.73" y2="464.90" stroke="#111" stroke-width="1.6"/><text x="448.33" y="474.20" font-size="10.1" font-weight="bold" text-anchor="end" fill="#111" stroke="#111" stroke-width="0.3" transform="rotate(-45 448.33 474.20)">pRmpA</text><line x1="461.16" y1="432.45" x2="461.16" y2="430.22" stroke="#777" stroke-width="1.3"/><line x1="458.16" y1="430.22" x2="464.16" y2="430.22" stroke="#777" stroke-width="1.3"/><rect x="455.61" y="432.45" width="11.10" height="26.85" fill="#d0681c" stroke="#111" stroke-width="1.2"/><line x1="461.16" y1="459.30" x2="461.16" y2="464.90" stroke="#111" stroke-width="1.6"/><text x="464.76" y="474.20" font-size="10.1" font-weight="bold" text-anchor="end" fill="#111" stroke="#111" stroke-width="0.3" transform="rotate(-45 464.76 474.20)">pRmpD</text><line x1="477.59" y1="430.22" x2="477.59" y2="428.55" stroke="#777" stroke-width="1.3"/><line x1="474.59" y1="428.55" x2="480.59" y2="428.55" stroke="#777" stroke-width="1.3"/><rect x="472.04" y="430.22" width="11.10" height="29.08" fill="#14901c" stroke="#111" stroke-width="1.2"/><line x1="477.59" y1="459.30" x2="477.59" y2="464.90" stroke="#111" stroke-width="1.6"/><text x="481.19" y="474.20" font-size="10.1" font-weight="bold" text-anchor="end" fill="#111" stroke="#111" stroke-width="0.3" transform="rotate(-45 481.19 474.20)">pRmpC</text><line x1="494.02" y1="432.01" x2="494.02" y2="427.89" stroke="#777" stroke-width="1.3"/><line x1="491.02" y1="427.89" x2="497.02" y2="427.89" stroke="#777" stroke-width="1.3"/><rect x="488.47" y="432.01" width="11.10" height="27.29" fill="#1c809c" stroke="#111" stroke-width="1.2"/><line x1="494.02" y1="459.30" x2="494.02" y2="464.90" stroke="#111" stroke-width="1.6"/><text x="497.62" y="474.20" font-size="10.1" font-weight="bold" text-anchor="end" fill="#111" stroke="#111" stroke-width="0.3" transform="rotate(-45 497.62 474.20)">pRmpA2</text><line x1="510.45" y1="416.97" x2="510.45" y2="414.18" stroke="#777" stroke-width="1.3"/><line x1="507.45" y1="414.18" x2="513.45" y2="414.18" stroke="#777" stroke-width="1.3"/><rect x="504.90" y="416.97" width="11.10" height="42.33" fill="#0a14d0" stroke="#111" stroke-width="1.2"/><line x1="510.45" y1="459.30" x2="510.45" y2="464.90" stroke="#111" stroke-width="1.6"/><text x="514.05" y="474.20" font-size="10.1" font-weight="bold" text-anchor="end" fill="#111" stroke="#111" stroke-width="0.3" transform="rotate(-45 514.05 474.20)">pRrmpD2</text><line x1="526.88" y1="437.47" x2="526.88" y2="434.90" stroke="#777" stroke-width="1.3"/><line x1="523.88" y1="434.90" x2="529.88" y2="434.90" stroke="#777" stroke-width="1.3"/><rect x="521.33" y="437.47" width="11.10" height="21.83" fill="#0d0d0d" stroke="#111" stroke-width="1.2"/><line x1="526.88" y1="459.30" x2="526.88" y2="464.90" stroke="#111" stroke-width="1.6"/><text x="530.48" y="474.20" font-size="10.1" font-weight="bold" text-anchor="end" fill="#111" stroke="#111" stroke-width="0.3" transform="rotate(-45 530.48 474.20)">wt</text><line x1="543.31" y1="404.60" x2="543.31" y2="400.15" stroke="#777" stroke-width="1.3"/><line x1="540.31" y1="400.15" x2="546.31" y2="400.15" stroke="#777" stroke-width="1.3"/><rect x="537.76" y="404.60" width="11.10" height="54.70" fill="#b00c18" stroke="#111" stroke-width="1.2"/><line x1="543.31" y1="459.30" x2="543.31" y2="464.90" stroke="#111" stroke-width="1.6"/><text x="546.91" y="474.20" font-size="10.1" font-weight="bold" text-anchor="end" fill="#111" stroke="#111" stroke-width="0.3" transform="rotate(-45 546.91 474.20)">pRmpA</text><line x1="559.74" y1="420.87" x2="559.74" y2="416.41" stroke="#777" stroke-width="1.3"/><line x1="556.74" y1="416.41" x2="562.74" y2="416.41" stroke="#777" stroke-width="1.3"/><rect x="554.19" y="420.87" width="11.10" height="38.43" fill="#d0681c" stroke="#111" stroke-width="1.2"/><line x1="559.74" y1="459.30" x2="559.74" y2="464.90" stroke="#111" stroke-width="1.6"/><text x="563.34" y="474.20" font-size="10.1" font-weight="bold" text-anchor="end" fill="#111" stroke="#111" stroke-width="0.3" transform="rotate(-45 563.34 474.20)">pRmpD</text><line x1="576.17" y1="407.05" x2="576.17" y2="396.25" stroke="#777" stroke-width="1.3"/><line x1="573.17" y1="396.25" x2="579.17" y2="396.25" stroke="#777" stroke-width="1.3"/><rect x="570.62" y="407.05" width="11.10" height="52.25" fill="#14901c" stroke="#111" stroke-width="1.2"/><line x1="576.17" y1="459.30" x2="576.17" y2="464.90" stroke="#111" stroke-width="1.6"/><text x="579.77" y="474.20" font-size="10.1" font-weight="bold" text-anchor="end" fill="#111" stroke="#111" stroke-width="0.3" transform="rotate(-45 579.77 474.20)">pRmpC</text><line x1="592.60" y1="425.99" x2="592.60" y2="422.20" stroke="#777" stroke-width="1.3"/><line x1="589.60" y1="422.20" x2="595.60" y2="422.20" stroke="#777" stroke-width="1.3"/><rect x="587.05" y="425.99" width="11.10" height="33.31" fill="#1c809c" stroke="#111" stroke-width="1.2"/><line x1="592.60" y1="459.30" x2="592.60" y2="464.90" stroke="#111" stroke-width="1.6"/><text x="596.20" y="474.20" font-size="10.1" font-weight="bold" text-anchor="end" fill="#111" stroke="#111" stroke-width="0.3" transform="rotate(-45 596.20 474.20)">pRmpA2</text><line x1="609.03" y1="418.19" x2="609.03" y2="412.07" stroke="#777" stroke-width="1.3"/><line x1="606.03" y1="412.07" x2="612.03" y2="412.07" stroke="#777" stroke-width="1.3"/><rect x="603.48" y="418.19" width="11.10" height="41.11" fill="#0a14d0" stroke="#111" stroke-width="1.2"/><line x1="609.03" y1="459.30" x2="609.03" y2="464.90" stroke="#111" stroke-width="1.6"/><text x="612.63" y="474.20" font-size="10.1" font-weight="bold" text-anchor="end" fill="#111" stroke="#111" stroke-width="0.3" transform="rotate(-45 612.63 474.20)">pRrmpD2</text><line x1="625.46" y1="425.66" x2="625.46" y2="424.54" stroke="#777" stroke-width="1.3"/><line x1="622.46" y1="424.54" x2="628.46" y2="424.54" stroke="#777" stroke-width="1.3"/><rect x="619.91" y="425.66" width="11.10" height="33.64" fill="#0d0d0d" stroke="#111" stroke-width="1.2"/><line x1="625.46" y1="459.30" x2="625.46" y2="464.90" stroke="#111" stroke-width="1.6"/><text x="629.06" y="474.20" font-size="10.1" font-weight="bold" text-anchor="end" fill="#111" stroke="#111" stroke-width="0.3" transform="rotate(-45 629.06 474.20)">wt</text><line x1="641.89" y1="418.86" x2="641.89" y2="406.94" stroke="#777" stroke-width="1.3"/><line x1="638.89" y1="406.94" x2="644.89" y2="406.94" stroke="#777" stroke-width="1.3"/><rect x="636.34" y="418.86" width="11.10" height="40.44" fill="#b00c18" stroke="#111" stroke-width="1.2"/><text x="641.89" y="404.30" font-size="12.5" font-weight="normal" text-anchor="middle" fill="#222" textLength="9.7" lengthAdjust="spacingAndGlyphs" stroke="#222" stroke-width="0.3">ns</text><line x1="641.89" y1="459.30" x2="641.89" y2="464.90" stroke="#111" stroke-width="1.6"/><text x="645.49" y="474.20" font-size="10.1" font-weight="bold" text-anchor="end" fill="#111" stroke="#111" stroke-width="0.3" transform="rotate(-45 645.49 474.20)">pRmpA</text><line x1="658.32" y1="387.56" x2="658.32" y2="377.53" stroke="#777" stroke-width="1.3"/><line x1="655.32" y1="377.53" x2="661.32" y2="377.53" stroke="#777" stroke-width="1.3"/><rect x="652.77" y="387.56" width="11.10" height="71.74" fill="#d0681c" stroke="#111" stroke-width="1.2"/><path d="M652.42,366.90L653.07,369.01L655.27,368.97L653.47,370.24L654.18,372.33L652.42,371.00L650.66,372.33L651.37,370.24L649.57,368.97L651.77,369.01ZM658.32,366.90L658.97,369.01L661.17,368.97L659.37,370.24L660.08,372.33L658.32,371.00L656.56,372.33L657.27,370.24L655.47,368.97L657.67,369.01ZM664.22,366.90L664.87,369.01L667.07,368.97L665.27,370.24L665.98,372.33L664.22,371.00L662.46,372.33L663.17,370.24L661.37,368.97L663.57,369.01Z" fill="#222"/><line x1="658.32" y1="459.30" x2="658.32" y2="464.90" stroke="#111" stroke-width="1.6"/><text x="661.92" y="474.20" font-size="10.1" font-weight="bold" text-anchor="end" fill="#111" stroke="#111" stroke-width="0.3" transform="rotate(-45 661.92 474.20)">pRmpD</text><line x1="674.75" y1="349.57" x2="674.75" y2="339.88" stroke="#777" stroke-width="1.3"/><line x1="671.75" y1="339.88" x2="677.75" y2="339.88" stroke="#777" stroke-width="1.3"/><rect x="669.20" y="349.57" width="11.10" height="109.73" fill="#14901c" stroke="#111" stroke-width="1.2"/><path d="M668.85,331.70L669.50,333.81L671.70,333.77L669.90,335.04L670.61,337.13L668.85,335.80L667.09,337.13L667.80,335.04L666.00,333.77L668.20,333.81ZM674.75,331.70L675.40,333.81L677.60,333.77L675.80,335.04L676.51,337.13L674.75,335.80L672.99,337.13L673.70,335.04L671.90,333.77L674.10,333.81ZM680.65,331.70L681.30,333.81L683.50,333.77L681.70,335.04L682.41,337.13L680.65,335.80L678.89,337.13L679.60,335.04L677.80,333.77L680.00,333.81Z" fill="#222"/><line x1="674.75" y1="459.30" x2="674.75" y2="464.90" stroke="#111" stroke-width="1.6"/><text x="678.35" y="474.20" font-size="10.1" font-weight="bold" text-anchor="end" fill="#111" stroke="#111" stroke-width="0.3" transform="rotate(-45 678.35 474.20)">pRmpC</text><line x1="691.18" y1="425.21" x2="691.18" y2="423.21" stroke="#777" stroke-width="1.3"/><line x1="688.18" y1="423.21" x2="694.18" y2="423.21" stroke="#777" stroke-width="1.3"/><rect x="685.63" y="425.21" width="11.10" height="34.09" fill="#1c809c" stroke="#111" stroke-width="1.2"/><text x="691.18" y="421.30" font-size="12.5" font-weight="normal" text-anchor="middle" fill="#222" textLength="9.7" lengthAdjust="spacingAndGlyphs" stroke="#222" stroke-width="0.3">ns</text><line x1="691.18" y1="459.30" x2="691.18" y2="464.90" stroke="#111" stroke-width="1.6"/><text x="694.78" y="474.20" font-size="10.1" font-weight="bold" text-anchor="end" fill="#111" stroke="#111" stroke-width="0.3" transform="rotate(-45 694.78 474.20)">pRmpA2</text><line x1="707.61" y1="383.55" x2="707.61" y2="370.51" stroke="#777" stroke-width="1.3"/><line x1="704.61" y1="370.51" x2="710.61" y2="370.51" stroke="#777" stroke-width="1.3"/><rect x="702.06" y="383.55" width="11.10" height="75.75" fill="#0a14d0" stroke="#111" stroke-width="1.2"/><path d="M701.71,361.90L702.36,364.01L704.56,363.97L702.76,365.24L703.47,367.33L701.71,366.00L699.95,367.33L700.66,365.24L698.86,363.97L701.06,364.01ZM707.61,361.90L708.26,364.01L710.46,363.97L708.66,365.24L709.37,367.33L707.61,366.00L705.85,367.33L706.56,365.24L704.76,363.97L706.96,364.01ZM713.51,361.90L714.16,364.01L716.36,363.97L714.56,365.24L715.27,367.33L713.51,366.00L711.75,367.33L712.46,365.24L710.66,363.97L712.86,364.01Z" fill="#222"/><line x1="707.61" y1="459.30" x2="707.61" y2="464.90" stroke="#111" stroke-width="1.6"/><text x="711.21" y="474.20" font-size="10.1" font-weight="bold" text-anchor="end" fill="#111" stroke="#111" stroke-width="0.3" transform="rotate(-45 711.21 474.20)">pRrmpD2</text><line x1="417.70" y1="325.60" x2="417.70" y2="460.40" stroke="#111" stroke-width="2.2"/><line x1="411.20" y1="459.30" x2="715.70" y2="459.30" stroke="#111" stroke-width="2.2"/><line x1="412.70" y1="459.30" x2="417.70" y2="459.30" stroke="#111" stroke-width="1.6"/><text x="410.90" y="462.90" font-size="10" font-weight="bold" text-anchor="end" fill="#111" stroke="#111" stroke-width="0.2">0</text><line x1="412.70" y1="403.60" x2="417.70" y2="403.60" stroke="#111" stroke-width="1.6"/><text x="410.90" y="407.20" font-size="10" font-weight="bold" text-anchor="end" fill="#111" stroke="#111" stroke-width="0.2">50</text><line x1="412.70" y1="347.90" x2="417.70" y2="347.90" stroke="#111" stroke-width="1.6"/><text x="410.90" y="351.50" font-size="10" font-weight="bold" text-anchor="end" fill="#111" stroke="#111" stroke-width="0.2">100</text><line x1="415.10" y1="459.30" x2="417.70" y2="459.30" stroke="#111" stroke-width="1.6"/><line x1="415.10" y1="453.73" x2="417.70" y2="453.73" stroke="#111" stroke-width="1.6"/><line x1="415.10" y1="448.16" x2="417.70" y2="448.16" stroke="#111" stroke-width="1.6"/><line x1="415.10" y1="442.59" x2="417.70" y2="442.59" stroke="#111" stroke-width="1.6"/><line x1="415.10" y1="437.02" x2="417.70" y2="437.02" stroke="#111" stroke-width="1.6"/><line x1="415.10" y1="431.45" x2="417.70" y2="431.45" stroke="#111" stroke-width="1.6"/><line x1="415.10" y1="425.88" x2="417.70" y2="425.88" stroke="#111" stroke-width="1.6"/><line x1="415.10" y1="420.31" x2="417.70" y2="420.31" stroke="#111" stroke-width="1.6"/><line x1="415.10" y1="414.74" x2="417.70" y2="414.74" stroke="#111" stroke-width="1.6"/><line x1="415.10" y1="409.17" x2="417.70" y2="409.17" stroke="#111" stroke-width="1.6"/><line x1="415.10" y1="403.60" x2="417.70" y2="403.60" stroke="#111" stroke-width="1.6"/><line x1="415.10" y1="398.03" x2="417.70" y2="398.03" stroke="#111" stroke-width="1.6"/><line x1="415.10" y1="392.46" x2="417.70" y2="392.46" stroke="#111" stroke-width="1.6"/><line x1="415.10" y1="386.89" x2="417.70" y2="386.89" stroke="#111" stroke-width="1.6"/><line x1="415.10" y1="381.32" x2="417.70" y2="381.32" stroke="#111" stroke-width="1.6"/><line x1="415.10" y1="375.75" x2="417.70" y2="375.75" stroke="#111" stroke-width="1.6"/><line x1="415.10" y1="370.18" x2="417.70" y2="370.18" stroke="#111" stroke-width="1.6"/><line x1="415.10" y1="364.61" x2="417.70" y2="364.61" stroke="#111" stroke-width="1.6"/><line x1="415.10" y1="359.04" x2="417.70" y2="359.04" stroke="#111" stroke-width="1.6"/><line x1="415.10" y1="353.47" x2="417.70" y2="353.47" stroke="#111" stroke-width="1.6"/><line x1="415.10" y1="347.90" x2="417.70" y2="347.90" stroke="#111" stroke-width="1.6"/><line x1="415.10" y1="342.33" x2="417.70" y2="342.33" stroke="#111" stroke-width="1.6"/><line x1="415.10" y1="336.76" x2="417.70" y2="336.76" stroke="#111" stroke-width="1.6"/><line x1="415.10" y1="331.19" x2="417.70" y2="331.19" stroke="#111" stroke-width="1.6"/><line x1="415.10" y1="325.62" x2="417.70" y2="325.62" stroke="#111" stroke-width="1.6"/><text x="390.60" y="391.50" font-size="8.8" text-anchor="middle" fill="#111" stroke="#111" stroke-width="0.35" transform="rotate(-90 390.60 391.50)" textLength="35" lengthAdjust="spacingAndGlyphs">µg /OD</text><text x="568.80" y="309.00" font-size="12.4" font-weight="bold" text-anchor="middle" fill="#111" letter-spacing="1.3" stroke="#111" stroke-width="0.25">Uronic acid</text><text x="371.8" y="309.8" font-size="20" fill="#111"><tspan font-weight="bold">d</tspan><tspan dx="1.3" font-size="20.5" stroke="#111" stroke-width="0.5">)</tspan></text><line x1="424.00" y1="515.50" x2="513.70" y2="515.50" stroke="#111" stroke-width="2.2"/><text x="465.70" y="533.50" font-size="11" text-anchor="middle" fill="#111" stroke="#111" stroke-width="0.35" textLength="24.6" lengthAdjust="spacingAndGlyphs">WZ1-2</text><line x1="524.00" y1="515.50" x2="611.00" y2="515.50" stroke="#111" stroke-width="2.2"/><text x="568.25" y="533.50" font-size="11" text-anchor="middle" fill="#111" stroke="#111" stroke-width="0.35" textLength="41.5" lengthAdjust="spacingAndGlyphs">KP1088PC</text><line x1="622.90" y1="515.50" x2="712.00" y2="515.50" stroke="#111" stroke-width="2.2"/><text x="668.00" y="533.50" font-size="11" text-anchor="middle" fill="#111" stroke="#111" stroke-width="0.35" textLength="35.1" lengthAdjust="spacingAndGlyphs">PM8PC</text><line x1="430.30" y1="396.70" x2="510.10" y2="396.70" stroke="#333" stroke-width="1.4"/><line x1="430.30" y1="390.70" x2="430.30" y2="402.70" stroke="#333" stroke-width="1.4"/><text x="470.50" y="391.70" font-size="12.5" font-weight="normal" text-anchor="middle" fill="#222" textLength="9.7" lengthAdjust="spacingAndGlyphs" stroke="#222" stroke-width="0.3">ns</text><line x1="525.70" y1="389.20" x2="610.30" y2="389.20" stroke="#333" stroke-width="1.4"/><line x1="525.70" y1="383.20" x2="525.70" y2="395.20" stroke="#333" stroke-width="1.4"/><path d="M559.80,376.80L560.45,378.91L562.65,378.87L560.85,380.14L561.56,382.23L559.80,380.90L558.04,382.23L558.75,380.14L556.95,378.87L559.15,378.91ZM565.70,376.80L566.35,378.91L568.55,378.87L566.75,380.14L567.46,382.23L565.70,380.90L563.94,382.23L564.65,380.14L562.85,378.87L565.05,378.91ZM571.60,376.80L572.25,378.91L574.45,378.87L572.65,380.14L573.36,382.23L571.60,380.90L569.84,382.23L570.55,380.14L568.75,378.87L570.95,378.91Z" fill="#222"/></svg></body></html>
